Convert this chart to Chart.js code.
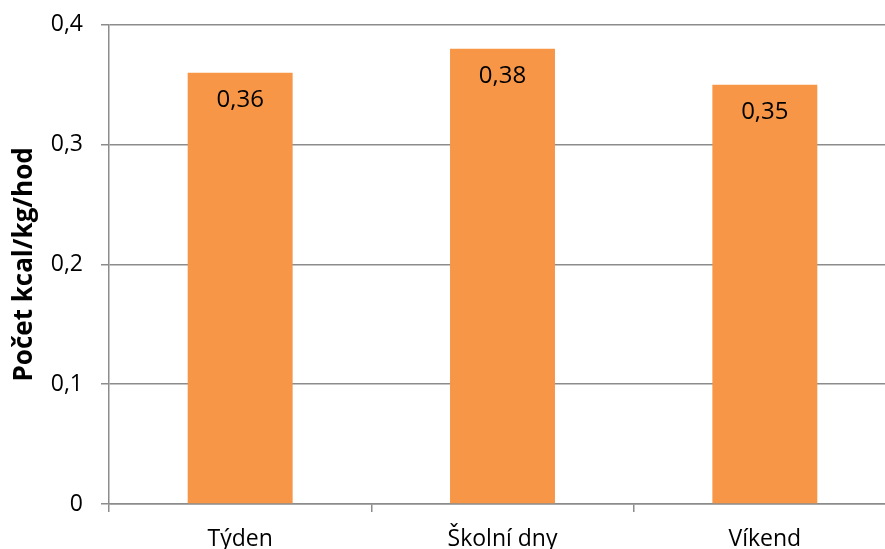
<!DOCTYPE html>
<html>
<head>
<meta charset="utf-8">
<script src="https://cdn.jsdelivr.net/npm/chart.js@4.4.0/dist/chart.umd.min.js"></script>
<style>
  html, body { margin: 0; padding: 0; background: #fff; overflow: hidden; }
  #wrap { width: 897px; height: 556px; margin-top: -7px; }
</style>
</head>
<body>
<div id="wrap"><canvas id="chart" width="897" height="556"></canvas></div>
<script>
const categories = ['Týden', 'Školní dny', 'Víkend']
const values = [0.36, 0.38, 0.35]
const yTicks = [0, 0.1, 0.2, 0.3, 0.4]

const fmt = v => String(v).replace('.', ',')

// value labels drawn just inside the top of each bar
const barLabels = {
    id: 'barLabels',
    afterDatasetsDraw(chart) {
        const ctx = chart.ctx
        const meta = chart.getDatasetMeta(0)
        ctx.save()
        ctx.font = '24px "Open Sans"'
        ctx.fillStyle = '#000'
        ctx.textAlign = 'center'
        ctx.textBaseline = 'middle'
        meta.data.forEach((bar, i) => {
            ctx.fillText(fmt(values[i]), bar.x, bar.y + 27)
        })
        ctx.restore()
    }
}

Chart.defaults.font.family = '"Open Sans"'
Chart.defaults.color = '#000'

new Chart(document.getElementById('chart'), {
    type: 'bar',
    data: {
        labels: categories,
        datasets: [{
            data: values,
            backgroundColor: '#F79646',
            barPercentage: 0.8,
            categoryPercentage: 0.5
        }]
    },
    options: {
        responsive: false,
        animation: false,
        layout: { padding: { top: 10, right: 1, left: 0, bottom: 0 } },
        plugins: {
            legend: { display: false },
            tooltip: { enabled: false }
        },
        scales: {
            x: {
                offset: true,
                grid: {
                    offset: true,
                    drawOnChartArea: false,
                    drawTicks: true,
                    tickLength: 8,
                    color: '#8c8c8c',
                    lineWidth: 1.5
                },
                border: { color: '#8c8c8c', width: 1.5 },
                ticks: { font: { size: 23 }, padding: 14, maxRotation: 0 },
                afterFit(scale) { scale.height = 45 }
            },
            y: {
                min: 0,
                max: 0.4,
                afterBuildTicks(scale) { scale.ticks = yTicks.map(v => ({ value: v })) },
                grid: {
                    color: '#8c8c8c',
                    lineWidth: 1.5,
                    tickLength: 8
                },
                border: { color: '#8c8c8c', width: 1.5 },
                ticks: {
                    font: { size: 23 },
                    padding: 18,
                    callback: v => fmt(v)
                },
                title: {
                    display: true,
                    text: 'Počet kcal/kg/hod',
                    font: { size: 26, weight: 'bold' },
                    padding: { top: 9, bottom: 0 }
                },
                afterFit(scale) { scale.width = 109 }
            }
        }
    },
    plugins: [barLabels]
})
</script>
</body>
</html>
